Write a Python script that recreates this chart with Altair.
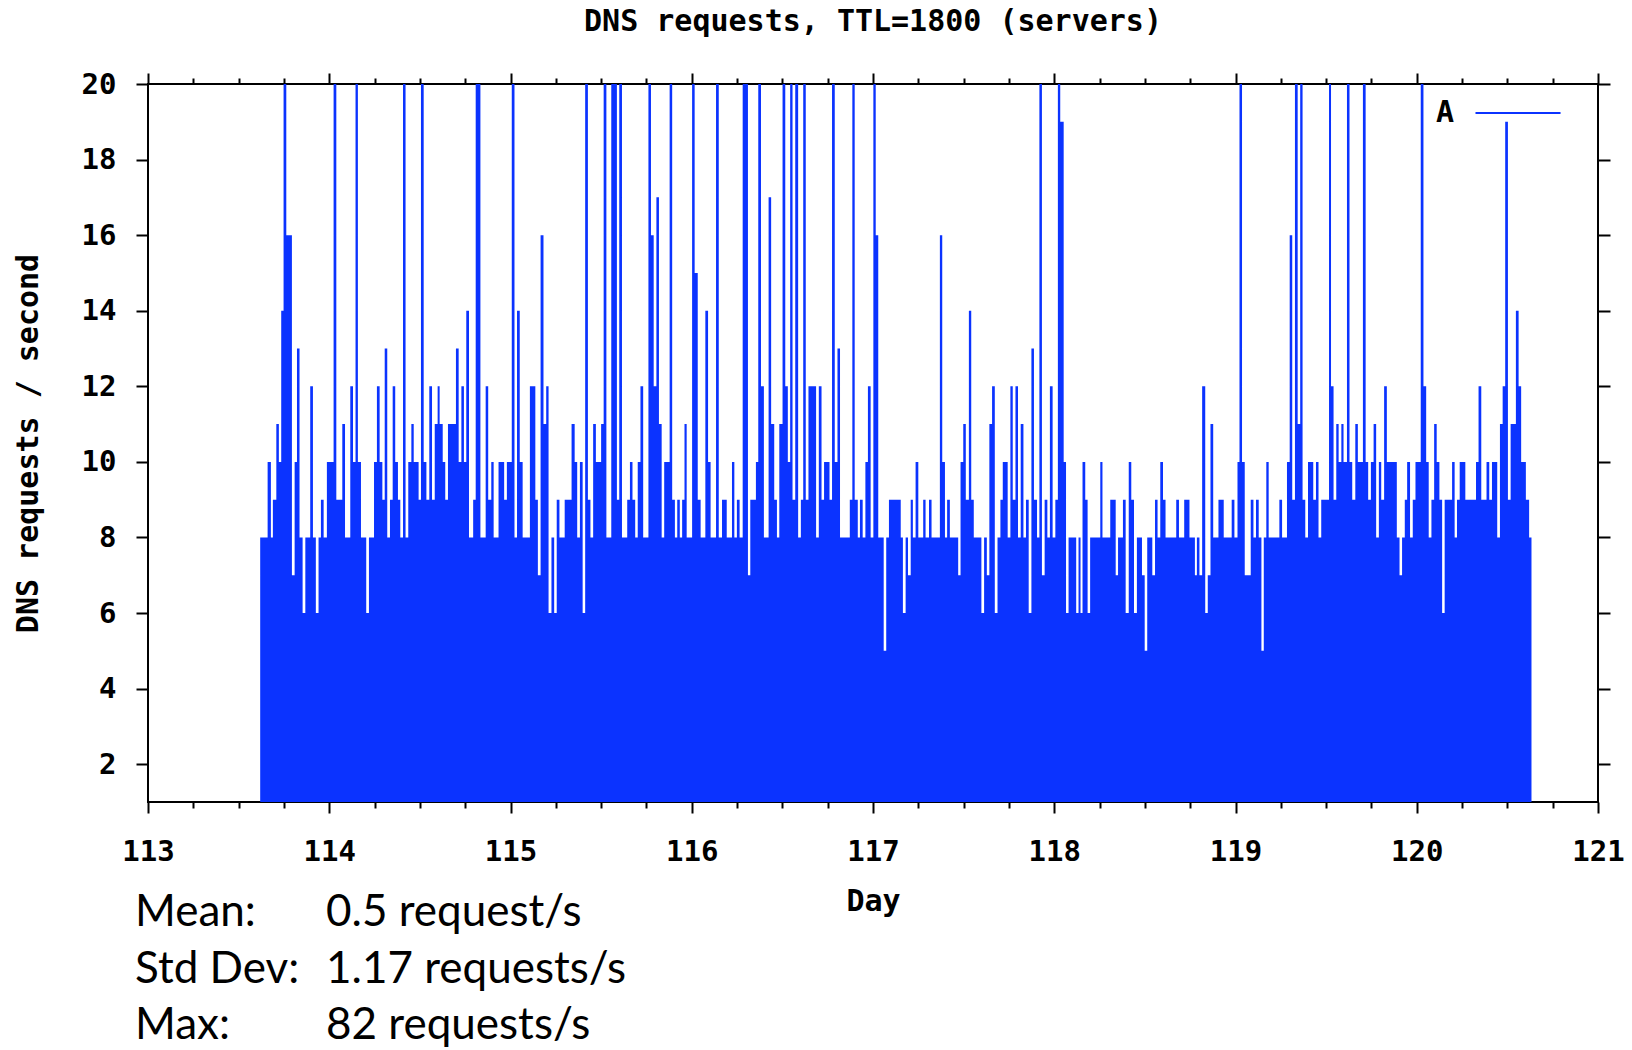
import altair as alt
import pandas as pd

# ---- data (start day of each step, requests/s) ----
DAYS = [
    113.619, 113.660, 113.678, 113.689, 113.708, 113.722, 113.735, 113.748, 113.763, 113.794,
    113.809, 113.822, 113.836, 113.853, 113.868, 113.895, 113.910, 113.926, 113.941, 113.954,
    113.969, 113.987, 114.024, 114.039, 114.072, 114.087, 114.116, 114.131, 114.145, 114.158,
    114.175, 114.204, 114.219, 114.247, 114.263, 114.278, 114.293, 114.306, 114.320, 114.335,
    114.350, 114.364, 114.379, 114.392, 114.407, 114.421, 114.436, 114.453, 114.466, 114.493,
    114.506, 114.521, 114.536, 114.552, 114.567, 114.582, 114.598, 114.609, 114.626, 114.640,
    114.655, 114.699, 114.714, 114.729, 114.743, 114.756, 114.771,
    # day 114.8 - 116
    114.794, 114.808, 114.834, 114.863, 114.877, 114.894, 114.907, 114.934, 114.965, 114.980,
    115.007, 115.022, 115.036, 115.051, 115.067, 115.107, 115.137, 115.151, 115.166, 115.182,
    115.197, 115.210, 115.226, 115.241, 115.255, 115.270, 115.299, 115.337, 115.354, 115.368,
    115.383, 115.398, 115.412, 115.427, 115.441, 115.456, 115.471, 115.500, 115.514, 115.529,
    115.556, 115.587, 115.600, 115.615, 115.644, 115.659, 115.673, 115.688, 115.702, 115.717,
    115.732, 115.761, 115.775, 115.790, 115.805, 115.819, 115.834, 115.848, 115.878, 115.892,
    115.907, 115.920, 115.934, 115.947,
    # day 116 - 117.1
    115.960, 115.972, 116.002, 116.016, 116.033, 116.049, 116.075, 116.090, 116.104, 116.134,
    116.149, 116.167, 116.193, 116.222, 116.235, 116.249, 116.264, 116.281, 116.310, 116.323,
    116.354, 116.367, 116.382, 116.398, 116.424, 116.438, 116.455, 116.470, 116.483, 116.501,
    116.516, 116.530, 116.543, 116.556, 116.571, 116.587, 116.602, 116.615, 116.629, 116.644,
    116.686, 116.701, 116.716, 116.730, 116.760, 116.774, 116.789, 116.804, 116.818, 116.872,
    116.886, 116.899, 116.916, 116.928, 116.943, 116.958, 116.972, 116.987, 117.002, 117.015,
    117.029, 117.059, 117.073, 117.088,
    # day 117.1 - 118.3
    117.153, 117.165, 117.180, 117.193, 117.208, 117.220, 117.235, 117.250, 117.277, 117.290,
    117.309, 117.323, 117.369, 117.382, 117.397, 117.409, 117.424, 117.470, 117.483, 117.498,
    117.512, 117.529, 117.542, 117.556, 117.598, 117.613, 117.628, 117.642, 117.657, 117.672,
    117.687, 117.703, 117.716, 117.743, 117.758, 117.771, 117.786, 117.800, 117.815, 117.830,
    117.844, 117.859, 117.874, 117.888, 117.905, 117.918, 117.932, 117.947, 117.962, 117.976,
    117.991, 118.006, 118.020, 118.033, 118.052, 118.065, 118.079, 118.121, 118.134, 118.145,
    118.156, 118.171, 118.184, 118.198, 118.254, 118.266, 118.309,
    # day 118.3 - 119.5
    118.339, 118.352, 118.379, 118.394, 118.411, 118.425, 118.440, 118.456, 118.484, 118.499,
    118.513, 118.541, 118.556, 118.570, 118.585, 118.600, 118.614, 118.673, 118.688, 118.717,
    118.746, 118.776, 118.787, 118.801, 118.816, 118.833, 118.847, 118.862, 118.877, 118.906,
    118.935, 118.979, 118.994, 119.011, 119.022, 119.036, 119.051, 119.084, 119.099, 119.113,
    119.128, 119.143, 119.156, 119.170, 119.183, 119.242, 119.257, 119.284, 119.299, 119.313,
    119.328, 119.343, 119.357, 119.370, 119.385, 119.400, 119.429, 119.444, 119.458, 119.473,
    # day 119.5 - end
    119.516, 119.527, 119.541, 119.556, 119.569, 119.584, 119.596, 119.615, 119.629, 119.644,
    119.661, 119.675, 119.703, 119.718, 119.732, 119.747, 119.762, 119.776, 119.791, 119.804,
    119.820, 119.835, 119.890, 119.905, 119.919, 119.934, 119.947, 119.963, 119.978, 119.993,
    120.022, 120.037, 120.052, 120.066, 120.081, 120.096, 120.110, 120.125, 120.140, 120.154,
    120.195, 120.209, 120.222, 120.237, 120.268, 120.327, 120.341, 120.356, 120.385, 120.400,
    120.415, 120.444, 120.459, 120.474, 120.488, 120.503, 120.518, 120.547, 120.562, 120.576,
    120.602, 120.620, 120.633,
]
VALUES = [
    8, 10, 8, 9, 11, 10, 14, 20, 16, 7,
    10, 13, 8, 6, 8, 12, 8, 6, 8, 9,
    8, 10, 20, 9, 11, 8, 12, 10, 20, 10,
    8, 6, 8, 10, 12, 10, 9, 13, 8, 9,
    12, 10, 9, 8, 20, 8, 10, 11, 10, 9,
    20, 10, 9, 12, 9, 11, 12, 11, 10, 9,
    11, 13, 10, 12, 10, 14, 8,
    9, 20, 8, 12, 9, 10, 8, 10, 9, 10,
    20, 8, 14, 10, 8, 12, 9, 7, 16, 11,
    12, 6, 8, 6, 9, 8, 9, 11, 10, 8,
    10, 6, 20, 9, 8, 11, 10, 11, 20, 8,
    20, 9, 20, 8, 9, 10, 9, 8, 10, 12,
    8, 20, 16, 12, 17, 11, 8, 10, 20, 9,
    8, 9, 8, 9,
    11, 8, 20, 15, 9, 8, 14, 10, 8, 20,
    8, 9, 8, 10, 8, 9, 8, 20, 7, 9,
    10, 20, 12, 8, 17, 11, 9, 8, 11, 20,
    12, 10, 20, 9, 20, 8, 9, 20, 9, 12,
    8, 12, 9, 10, 9, 20, 10, 13, 8, 9,
    20, 9, 8, 9, 8, 10, 12, 8, 20, 16,
    8, 5, 8, 9,
    8, 6, 8, 7, 9, 8, 10, 8, 9, 8,
    9, 8, 16, 10, 8, 9, 8, 7, 10, 11,
    9, 14, 9, 8, 6, 8, 7, 11, 12, 6,
    8, 9, 10, 8, 12, 9, 12, 8, 11, 8,
    9, 6, 13, 9, 8, 20, 7, 9, 8, 12,
    8, 9, 20, 19, 10, 6, 8, 6, 8, 6,
    10, 9, 6, 8, 10, 8, 9,
    7, 8, 9, 6, 10, 9, 6, 8, 7, 5,
    8, 7, 9, 8, 10, 9, 8, 9, 8, 9,
    8, 7, 8, 7, 12, 6, 7, 11, 8, 9,
    8, 9, 8, 10, 20, 10, 7, 9, 8, 9,
    8, 5, 8, 10, 8, 9, 8, 10, 16, 9,
    20, 11, 20, 9, 8, 10, 9, 10, 8, 9,
    20, 12, 9, 11, 10, 11, 10, 20, 10, 9,
    11, 10, 20, 10, 9, 10, 11, 8, 10, 9,
    12, 10, 8, 7, 8, 9, 10, 8, 9, 10,
    20, 12, 10, 8, 9, 11, 10, 9, 6, 9,
    10, 8, 9, 10, 9, 10, 12, 9, 10, 9,
    10, 8, 11, 12, 19, 9, 11, 14, 12, 10,
    9, 8, 8,
]
SERIES = "A"

X_MAJOR = [113, 114, 115, 116, 117, 118, 119, 120, 121]
X_MINOR = [113.25, 113.5, 113.75, 114.25, 114.5, 114.75, 115.25, 115.5, 115.75,
           116.25, 116.5, 116.75, 117.25, 117.5, 117.75, 118.25, 118.5, 118.75,
           119.25, 119.5, 119.75, 120.25, 120.5, 120.75]
Y_TICKS = [2, 4, 6, 8, 10, 12, 14, 16, 18, 20]

STAT_LABELS = ["Mean:", "Std Dev:", "Max:"]
STAT_VALUES = ["0.5 request/s", "1.17 requests/s", "82 requests/s"]

# ---- tables ----
df = pd.DataFrame({"day": DAYS, "value": VALUES, "series": SERIES})
stats_rows = []
for i, (lab, val) in enumerate(zip(STAT_LABELS, STAT_VALUES)):
    stats_rows.append({"row": i, "col": 0, "text": lab})
    stats_rows.append({"row": i, "col": 1, "text": val})
stats = pd.DataFrame(stats_rows)

BLUE = "#0b33ff"
MONO = "DejaVu Sans Mono"
W, H = 1450, 718

xs = alt.Scale(domain=[113, 121], nice=False, zero=False)
ys = alt.Scale(domain=[1, 20], nice=False, zero=False)

area = alt.Chart(df).mark_area(interpolate="step-after", color=BLUE, clip=True).encode(
    x=alt.X("day:Q", scale=xs,
            axis=alt.Axis(orient="bottom", values=X_MAJOR, tickSize=11, labelPadding=24,
                          labelFlush=False, labelOverlap=False,
                          title="Day", titlePadding=20, format="d")),
    y=alt.Y("value:Q", scale=ys,
            axis=alt.Axis(orient="left", values=Y_TICKS, tickSize=12, labelPadding=20,
                          title="DNS requests / second", titlePadding=38)),
    y2=alt.datum(1),
    color=alt.Color("series:N", scale=alt.Scale(domain=[SERIES], range=[BLUE]),
                    legend=alt.Legend(title=None, orient="none", legendX=1258, legendY=14,
                                      symbolType="M5.19,0H13.29", symbolSize=441,
                                      symbolStrokeColor=BLUE, symbolStrokeWidth=2,
                                      labelOffset=0, labelAlign="left",
                                      labelFont=MONO, labelFontSize=30,
                                      labelFontWeight="bold", labelColor="black",
                                      padding=0)),
)

def ghost(xaxis, yaxis):
    return alt.Chart(df).mark_point(opacity=0, size=1).encode(
        x=alt.X("day:Q", scale=xs, axis=xaxis),
        y=alt.Y("value:Q", scale=ys, axis=yaxis),
    )

minor_bottom = ghost(
    alt.Axis(orient="bottom", values=X_MINOR, tickSize=6, labels=False, title=None),
    alt.Axis(orient="right", values=Y_TICKS, tickSize=12, labels=False, title=None),
)
major_top = ghost(
    alt.Axis(orient="top", values=X_MAJOR, tickSize=11, labels=False, title=None), None)
minor_top = ghost(
    alt.Axis(orient="top", values=X_MINOR, tickSize=6, labels=False, title=None), None)

text = alt.Chart(stats).mark_text(align="left", baseline="alphabetic", font="Lato",
                                  fontSize=44, color="black").encode(
    x=alt.X("col:Q", scale=alt.Scale(domain=[0, 1], range=[-13, 178]), axis=None),
    y=alt.Y("row:Q", scale=alt.Scale(domain=[0, 2], range=[842, 955]), axis=None),
    text="text:N",
)

chart = alt.layer(area, minor_bottom, major_top, minor_top, text).resolve_scale(
    x="independent", y="independent"
).resolve_axis(
    x="independent", y="independent"
).properties(
    width=W, height=H,
    background="white",
    autosize=alt.AutoSizeParams(type="none"),
    padding={"left": 148, "top": 84, "right": 34, "bottom": 248},
    title=alt.TitleParams("DNS requests, TTL=1800 (servers)", font=MONO, fontSize=30,
                          fontWeight="bold", color="black", anchor="middle",
                          baseline="bottom", offset=3),
).configure_axis(
    grid=False, domain=False, tickColor="black", tickWidth=2,
    labelFont=MONO, labelFontSize=29, labelFontWeight="bold", labelColor="black",
    titleFont=MONO, titleFontSize=30, titleFontWeight="bold", titleColor="black",
).configure_view(
    stroke="black", strokeWidth=2
)

chart.save("out.html", embed_options={"renderer": "svg", "actions": False})
